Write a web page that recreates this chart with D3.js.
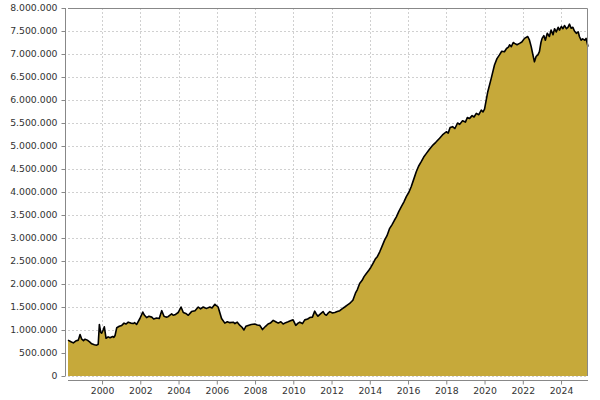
<!DOCTYPE html>
<html>
<head>
<meta charset="utf-8">
<script src="https://cdn.jsdelivr.net/npm/d3@7"></script>
<style>
  html, body { margin: 0; padding: 0; background: #fff; }
  svg { display: block; }
  text { font-family: "DejaVu Sans", sans-serif; }
</style>
</head>
<body>
<svg id="chart" width="600" height="400"></svg>
<script>
// ---- data ----
const years = [
  1998.22,1998.40,1998.50,1998.62,1998.76,1998.85,1998.94,1999.03,1999.11,1999.23,
  1999.35,1999.46,1999.60,1999.72,1999.80,1999.86,1999.93,1999.98,2000.06,2000.12,
  2000.21,2000.32,2000.42,2000.56,2000.62,2000.68,2000.77,2000.90,2001.03,2001.15,
  2001.25,2001.37,2001.50,2001.63,2001.70,2001.81,2001.98,2002.13,2002.22,2002.33,
  2002.45,2002.60,2002.70,2002.85,2002.99,2003.12,2003.24,2003.35,2003.45,2003.64,
  2003.72,2003.81,2003.98,2004.13,2004.25,2004.38,2004.51,2004.68,2004.86,2005.03,
  2005.15,2005.29,2005.40,2005.47,2005.64,2005.75,2005.90,2006.07,2006.25,2006.42,
  2006.55,2006.68,2006.86,2006.95,2007.07,2007.21,2007.32,2007.42,2007.52,2007.64,
  2007.80,2007.99,2008.12,2008.25,2008.39,2008.55,2008.68,2008.80,2008.95,2009.08,
  2009.21,2009.35,2009.47,2009.60,2009.73,2009.85,2009.99,2010.13,2010.25,2010.34,
  2010.48,2010.60,2010.75,2010.86,2011.00,2011.12,2011.20,2011.29,2011.45,2011.56,
  2011.65,2011.73,2011.85,2011.91,2012.05,2012.17,2012.30,2012.43,2012.55,2012.69,
  2012.82,2012.95,2013.05,2013.12,2013.25,2013.35,2013.47,2013.60,2013.70,2013.82,
  2013.95,2014.05,2014.17,2014.30,2014.40,2014.52,2014.65,2014.78,2014.90,2015.04,
  2015.15,2015.28,2015.39,2015.52,2015.65,2015.78,2015.91,2016.05,2016.17,2016.30,
  2016.43,2016.55,2016.69,2016.82,2016.96,2017.10,2017.30,2017.45,2017.65,2017.80,
  2018.00,2018.10,2018.20,2018.33,2018.45,2018.59,2018.70,2018.85,2019.00,2019.10,
  2019.22,2019.35,2019.45,2019.57,2019.70,2019.83,2019.92,2020.00,2020.17,2020.35,
  2020.52,2020.65,2020.78,2020.90,2021.04,2021.15,2021.25,2021.31,2021.40,2021.50,
  2021.57,2021.70,2021.83,2021.95,2022.09,2022.26,2022.35,2022.44,2022.52,2022.61,
  2022.70,2022.79,2022.87,2022.95,2023.01,2023.10,2023.18,2023.28,2023.39,2023.48,
  2023.58,2023.66,2023.75,2023.85,2023.92,2024.02,2024.10,2024.18,2024.28,2024.36,
  2024.44,2024.53,2024.62,2024.70,2024.80,2024.90,2024.96,2025.05,2025.13,2025.25,
  2025.31,2025.41
];
const valuesMillions = [
  0.78,0.74,0.72,0.76,0.78,0.90,0.80,0.77,0.80,0.78,
  0.74,0.70,0.68,0.67,0.69,1.12,0.95,0.93,1.00,1.07,
  0.82,0.85,0.83,0.86,0.84,0.88,1.05,1.08,1.10,1.15,
  1.13,1.17,1.15,1.14,1.16,1.12,1.25,1.39,1.32,1.27,
  1.30,1.28,1.24,1.26,1.25,1.42,1.30,1.28,1.29,1.35,
  1.32,1.33,1.38,1.50,1.38,1.36,1.32,1.40,1.42,1.50,
  1.46,1.50,1.48,1.47,1.50,1.48,1.56,1.50,1.25,1.15,
  1.18,1.16,1.17,1.14,1.17,1.10,1.06,1.00,1.08,1.10,
  1.12,1.13,1.11,1.10,1.01,1.08,1.13,1.15,1.21,1.18,
  1.15,1.18,1.13,1.16,1.18,1.20,1.22,1.10,1.15,1.17,
  1.14,1.22,1.24,1.27,1.28,1.41,1.35,1.30,1.36,1.40,
  1.34,1.32,1.38,1.40,1.37,1.38,1.40,1.42,1.46,1.50,
  1.54,1.58,1.62,1.65,1.80,1.88,2.01,2.08,2.16,2.23,
  2.30,2.36,2.45,2.55,2.60,2.70,2.83,2.96,3.05,3.21,
  3.28,3.38,3.46,3.58,3.68,3.78,3.90,4.00,4.12,4.28,
  4.44,4.56,4.66,4.76,4.84,4.92,5.02,5.08,5.17,5.24,
  5.31,5.28,5.40,5.42,5.38,5.50,5.47,5.55,5.52,5.62,
  5.60,5.66,5.63,5.71,5.68,5.78,5.74,5.80,6.18,6.47,
  6.76,6.90,6.98,7.06,7.05,7.12,7.15,7.20,7.16,7.25,
  7.23,7.20,7.23,7.26,7.34,7.38,7.30,7.16,7.00,6.83,
  6.95,6.98,7.05,7.25,7.34,7.40,7.30,7.45,7.38,7.52,
  7.42,7.55,7.48,7.58,7.52,7.60,7.55,7.62,7.55,7.58,
  7.65,7.56,7.58,7.50,7.45,7.48,7.38,7.30,7.33,7.30,
  7.34,7.16
];
const yearDomain = [1998.22, 2025.41];
const xTickYears = [2000, 2002, 2004, 2006, 2008, 2010, 2012, 2014, 2016, 2018, 2020, 2022, 2024];
const yTickValues = [0, 500000, 1000000, 1500000, 2000000, 2500000, 3000000, 3500000,
  4000000, 4500000, 5000000, 5500000, 6000000, 6500000, 7000000, 7500000, 8000000];

const data = years.map((y, i) => ({ year: y, value: valuesMillions[i] * 1e6 }));

// ---- layout ----
const plot = { left: 68, right: 588, top: 8, bottom: 376 };
const svg = d3.select("#chart");

const x = d3.scaleLinear().domain(yearDomain).range([plot.left, plot.right]);
const y = d3.scaleLinear().domain([0, 8000000]).range([plot.bottom, plot.top]);

const locale = d3.formatLocale({ decimal: ",", thousands: ".", grouping: [3], currency: ["", ""] });
const fmt = locale.format(",d");

// plot background
svg.append("rect")
  .attr("x", plot.left).attr("y", plot.top)
  .attr("width", plot.right - plot.left).attr("height", plot.bottom - plot.top)
  .attr("fill", "#fff");

// gridlines
const grid = svg.append("g").attr("stroke", "#c4c4c4").attr("stroke-width", 0.8)
  .attr("stroke-dasharray", "2,2").attr("shape-rendering", "crispEdges");
grid.selectAll(".gx").data(xTickYears).join("line")
  .attr("x1", d => Math.round(x(d)) + 0.5).attr("x2", d => Math.round(x(d)) + 0.5)
  .attr("y1", plot.top).attr("y2", plot.bottom);
grid.selectAll(".gy").data(yTickValues).join("line")
  .attr("y1", d => Math.round(y(d)) + 0.5).attr("y2", d => Math.round(y(d)) + 0.5)
  .attr("x1", plot.left).attr("x2", plot.right);

// area + line
const area = d3.area().x(d => x(d.year)).y0(y(0)).y1(d => y(d.value));
const line = d3.line().x(d => x(d.year)).y(d => y(d.value));

svg.append("path").datum(data).attr("d", area).attr("fill", "#c6a93a");
svg.append("path").datum(data).attr("d", line)
  .attr("fill", "none").attr("stroke", "#000").attr("stroke-width", 1.6)
  .attr("stroke-linejoin", "round");

// plot outline (top & right)
svg.append("path")
  .attr("d", `M${plot.left},${plot.top + 0.5}H${plot.right - 0.5}V${plot.bottom}`)
  .attr("fill", "none").attr("stroke", "#888").attr("stroke-width", 1);

// axes
const yAxis = d3.axisLeft(y).tickValues(yTickValues).tickFormat(fmt).tickSize(4).tickPadding(4);
const xAxis = d3.axisBottom(x).tickValues(xTickYears).tickFormat(d3.format("d")).tickSize(4).tickPadding(3);

const gy = svg.append("g").attr("transform", "translate(65.5,0)").call(yAxis);
const gx = svg.append("g").attr("transform", "translate(0,380.5)").call(xAxis);

[gx, gy].forEach(g => {
  g.select(".domain").attr("stroke", "#888");
  g.selectAll(".tick line").attr("stroke", "#888");
  g.selectAll(".tick text").attr("fill", "#333")
    .style("font-family", "'DejaVu Sans', sans-serif").style("font-size", "9.3px");
});
// domain paths without outer ticks
gy.select(".domain").attr("d", `M0,${plot.top}V${plot.bottom}`);
gx.select(".domain").attr("d", `M${plot.left},0H${plot.right}`);
</script>
</body>
</html>
